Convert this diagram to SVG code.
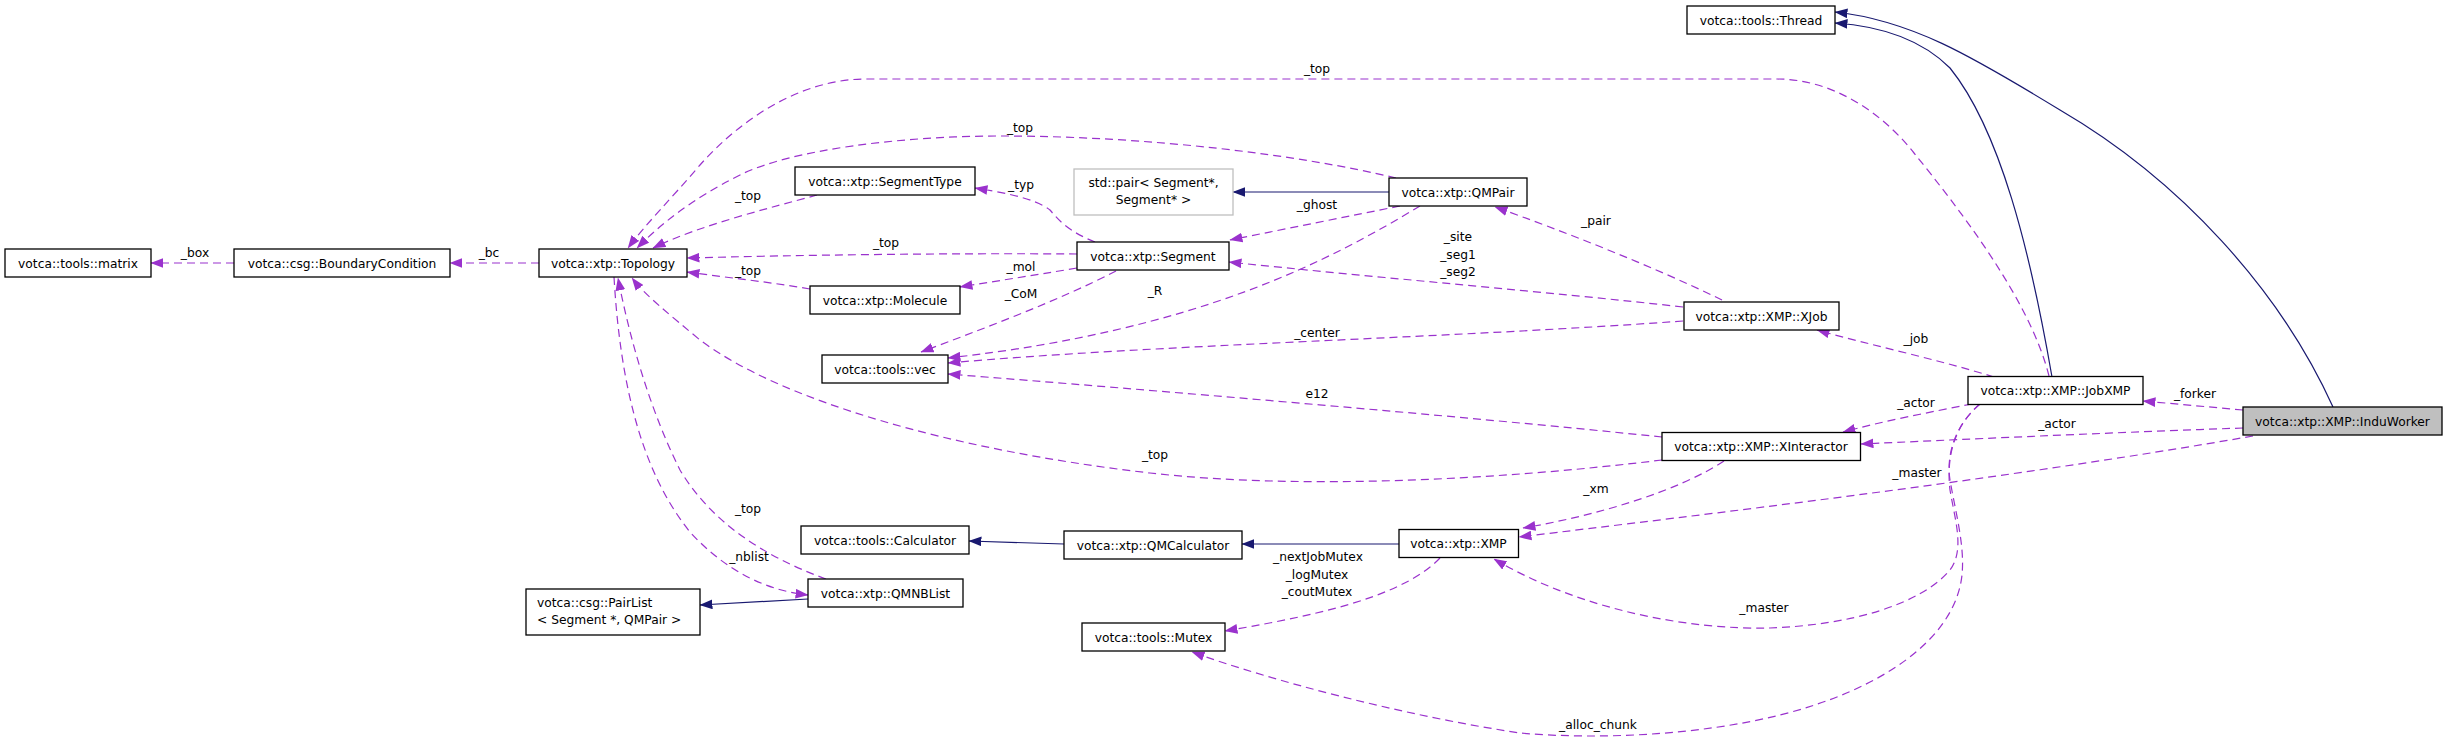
<svg xmlns="http://www.w3.org/2000/svg" width="2448" height="743" viewBox="0 0 2448 743">
<style>
.n rect{fill:#fff;stroke:#000;stroke-width:1.3}
.g rect{fill:#fff;stroke:#bfbfbf;stroke-width:1.3}
.h rect{fill:#bfbfbf;stroke:#000;stroke-width:1.3}
text{font-family:"DejaVu Sans","Liberation Sans",sans-serif;font-size:12.25px;fill:#000}
.c{text-anchor:middle}
.e{fill:none;stroke:#9a32cd;stroke-width:1.2;stroke-dasharray:8,5;marker-end:url(#ap)}
.i{fill:none;stroke:#191970;stroke-width:1.2;marker-end:url(#an)}
</style>
<defs>
<marker id="ap" markerUnits="userSpaceOnUse" markerWidth="13" markerHeight="10" viewBox="0 0 12 9" refX="11.5" refY="4.5" orient="auto"><path d="M0,0 L12,4.5 L0,9z" fill="#9a32cd" stroke="none"/></marker>
<marker id="an" markerUnits="userSpaceOnUse" markerWidth="13" markerHeight="10" viewBox="0 0 12 9" refX="11.5" refY="4.5" orient="auto"><path d="M0,0 L12,4.5 L0,9z" fill="#191970" stroke="none"/></marker>
</defs>
<rect width="2448" height="743" fill="#fff"/>
<g id="edges">
<path class="e" d="M234,263 L151,263"/>
<path class="e" d="M539,263 L450,263"/>
<path class="e" d="M2049,376 C2030,300 1960,210 1914,153 C1880,110 1830,79 1777,79 L866,79 C800,79 740,120 700,165 C670,200 645,225 628,248"/>
<path class="e" d="M1396,178 C1300,155 1150,136 1000,136 C900,136 790,150 740,175 C690,200 660,225 637,248"/>
<path class="e" d="M817,195 C770,208 700,225 653,248"/>
<path class="e" d="M1077,254 C950,253 800,255 687,258"/>
<path class="e" d="M810,289 C770,282 730,278 687,272"/>
<path class="e" d="M1095,242 C1070,232 1060,222 1050,210 C1035,198 1000,192 975,188"/>
<path class="e" d="M1077,268 C1030,276 990,282 960,287"/>
<path class="e" d="M1116,271 C1060,300 980,330 921,352"/>
<path class="i" d="M1389,192 L1233,192"/>
<path class="e" d="M1400,206 C1350,216 1290,228 1230,240"/>
<path class="e" d="M1420,206 C1330,260 1200,330 948,358"/>
<path class="e" d="M1683,307 C1550,292 1380,278 1229,262"/>
<path class="e" d="M1722,300 C1650,265 1560,230 1495,207"/>
<path class="e" d="M1683,321 C1450,338 1150,345 948,363"/>
<path class="e" d="M1662,437 C1450,415 1150,390 948,374"/>
<path class="e" d="M1662,460 C1500,480 1300,490 1150,473 C950,450 780,400 700,340 C670,315 645,295 632,278"/>
<path class="e" d="M614,277 C620,380 640,470 690,532 C720,565 760,590 808,595"/>
<path class="e" d="M826,579 C760,555 710,520 680,470 C650,410 630,340 618,278"/>
<path class="e" d="M1994,377 C1940,360 1870,345 1817,330"/>
<path class="e" d="M2243,410 L2143,401"/>
<path class="e" d="M1972,404 C1930,412 1880,422 1843,432"/>
<path class="e" d="M2243,428 C2100,433 1950,440 1861,444"/>
<path class="e" d="M2253,436 C2000,480 1700,515 1519,537"/>
<path class="e" d="M1724,461 C1680,490 1600,515 1523,528"/>
<path class="i" d="M1399,544 L1242,544"/>
<path class="i" d="M1064,544 L969,541"/>
<path class="i" d="M808,599 L700,605"/>
<path class="e" d="M1440,558 C1400,600 1300,618 1225,631"/>
<path class="e" d="M1980,404 C1955,425 1946,455 1950,490 C1955,520 1965,550 1950,570 C1920,605 1850,625 1770,628 C1690,630 1580,610 1494,559"/>
<path class="e" d="M1980,404 C1955,425 1946,455 1950,480 C1955,510 1965,545 1962,575 C1955,640 1880,690 1780,715 C1700,735 1600,740 1520,733 C1400,715 1270,680 1192,652"/>
<path class="i" d="M2052,377 C2030,250 2000,130 1950,68 C1920,38 1880,26 1835,23"/>
<path class="i" d="M2333,407 C2280,290 2180,180 2060,110 C1970,55 1910,20 1835,12"/>
<text class="c" x="195" y="257">_box</text>
<text class="c" x="489" y="257">_bc</text>
<text class="c" x="1317" y="73">_top</text>
<text class="c" x="1020" y="132">_top</text>
<text class="c" x="748" y="200">_top</text>
<text class="c" x="886" y="247">_top</text>
<text class="c" x="748" y="275">_top</text>
<text class="c" x="1021" y="189">_typ</text>
<text class="c" x="1021" y="271">_mol</text>
<text class="c" x="1021" y="298">_CoM</text>
<text class="c" x="1317" y="209">_ghost</text>
<text class="c" x="1155" y="295">_R</text>
<text class="c" x="1458" y="241">_site</text>
<text class="c" x="1458" y="259">_seg1</text>
<text class="c" x="1458" y="276">_seg2</text>
<text class="c" x="1596" y="225">_pair</text>
<text class="c" x="1317" y="337">_center</text>
<text class="c" x="1317" y="398">e12</text>
<text class="c" x="1155" y="459">_top</text>
<text class="c" x="748" y="513">_top</text>
<text class="c" x="749" y="561">_nblist</text>
<text class="c" x="1916" y="343">_job</text>
<text class="c" x="2195" y="398">_forker</text>
<text class="c" x="1916" y="407">_actor</text>
<text class="c" x="2057" y="428">_actor</text>
<text class="c" x="1917" y="477">_master</text>
<text class="c" x="1596" y="493">_xm</text>
<text class="c" x="1318" y="561">_nextJobMutex</text>
<text class="c" x="1317" y="579">_logMutex</text>
<text class="c" x="1317" y="596">_coutMutex</text>
<text class="c" x="1764" y="612">_master</text>
<text class="c" x="1598" y="729">_alloc_chunk</text>
</g>
<g id="matrix" class="n"><rect x="5" y="249" width="146" height="28"/><text class="c" x="78" y="267.5">votca::tools::matrix</text></g>
<g id="boundary" class="n"><rect x="234" y="249" width="216" height="28"/><text class="c" x="342" y="267.5">votca::csg::BoundaryCondition</text></g>
<g id="topology" class="n"><rect x="539" y="249" width="148" height="28"/><text class="c" x="613" y="267.5">votca::xtp::Topology</text></g>
<g id="segmenttype" class="n"><rect x="795" y="167" width="180" height="28"/><text class="c" x="885" y="185.5">votca::xtp::SegmentType</text></g>
<g id="molecule" class="n"><rect x="810" y="286" width="150" height="28"/><text class="c" x="885" y="304.5">votca::xtp::Molecule</text></g>
<g id="vec" class="n"><rect x="822" y="355" width="126" height="28"/><text class="c" x="885" y="373.5">votca::tools::vec</text></g>
<g id="segment" class="n"><rect x="1077" y="242" width="152" height="28"/><text class="c" x="1153" y="260.5">votca::xtp::Segment</text></g>
<g id="stdpair" class="g"><rect x="1074" y="169" width="159" height="46"/><text class="c" x="1153.5" y="187">std::pair&lt; Segment*,</text><text class="c" x="1153.5" y="204">Segment* &gt;</text></g>
<g id="qmpair" class="n"><rect x="1389" y="178" width="138" height="28"/><text class="c" x="1458" y="196.5">votca::xtp::QMPair</text></g>
<g id="thread" class="n"><rect x="1687" y="6" width="148" height="28"/><text class="c" x="1761" y="24.5">votca::tools::Thread</text></g>
<g id="xjob" class="n"><rect x="1684" y="302" width="155" height="28"/><text class="c" x="1761.5" y="320.5">votca::xtp::XMP::XJob</text></g>
<g id="jobxmp" class="n"><rect x="1968" y="376.5" width="175" height="28"/><text class="c" x="2055.5" y="395">votca::xtp::XMP::JobXMP</text></g>
<g id="induworker" class="h"><rect x="2243" y="407" width="199" height="28"/><text class="c" x="2342.5" y="425.5">votca::xtp::XMP::InduWorker</text></g>
<g id="xinteractor" class="n"><rect x="1662" y="432.5" width="198.5" height="28"/><text class="c" x="1761" y="451">votca::xtp::XMP::XInteractor</text></g>
<g id="xmp" class="n"><rect x="1399" y="529.5" width="119.5" height="28"/><text class="c" x="1458.5" y="548">votca::xtp::XMP</text></g>
<g id="qmcalculator" class="n"><rect x="1064" y="531" width="178" height="28"/><text class="c" x="1153" y="549.5">votca::xtp::QMCalculator</text></g>
<g id="calculator" class="n"><rect x="801" y="526" width="168" height="28"/><text class="c" x="885" y="544.5">votca::tools::Calculator</text></g>
<g id="qmnblist" class="n"><rect x="808" y="579" width="155" height="28"/><text class="c" x="885.5" y="597.5">votca::xtp::QMNBList</text></g>
<g id="pairlist" class="n"><rect x="526" y="589" width="174" height="46"/><text x="537" y="607">votca::csg::PairList</text><text x="537" y="624">&lt; Segment *, QMPair &gt;</text></g>
<g id="mutex" class="n"><rect x="1082" y="623" width="143" height="28"/><text class="c" x="1153.5" y="641.5">votca::tools::Mutex</text></g>
</svg>
